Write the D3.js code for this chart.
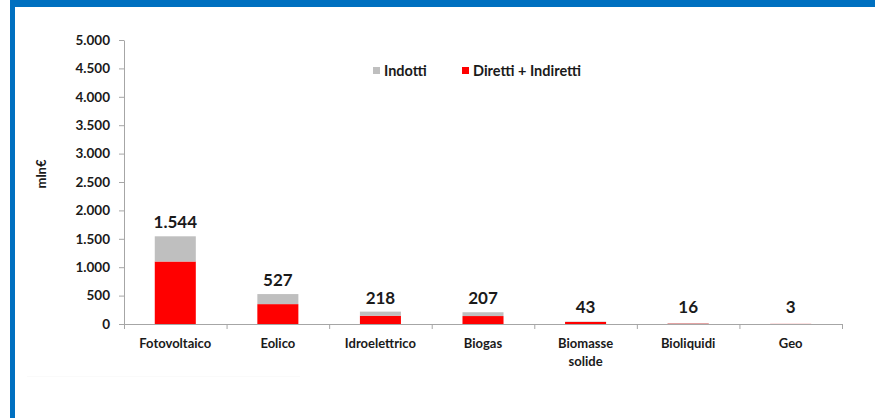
<!DOCTYPE html>
<html>
<head>
<meta charset="utf-8">
<script src="https://cdn.jsdelivr.net/npm/d3@7"></script>
<style>
  html, body { margin: 0; padding: 0; background: #fff; }
  svg { display: block; }
  text { font-family: Lato, "Open Sans", sans-serif; }
</style>
</head>
<body>
<svg id="chart" width="875" height="418"></svg>
<script>
const categories = ["Fotovoltaico", "Eolico", "Idroelettrico", "Biogas", "Biomasse solide", "Bioliquidi", "Geo"];
const categoryLines = [["Fotovoltaico"], ["Eolico"], ["Idroelettrico"], ["Biogas"], ["Biomasse", "solide"], ["Bioliquidi"], ["Geo"]];
const direttiIndiretti = [1100, 350, 145, 140, 36, 8, 2];
const indotti = [444, 177, 73, 67, 7, 8, 1];
const totals = [1544, 527, 218, 207, 43, 16, 3];
const yTicks = [0, 500, 1000, 1500, 2000, 2500, 3000, 3500, 4000, 4500, 5000];
const seriesNames = ["Indotti", "Diretti + Indiretti"];
const yLabel = "mln€";

const colors = { indotti: "#BFBFBF", diretti: "#FF0000", axis: "#A6A6A6", text: "#1a1a1a", frame: "#0070C0" };

const svg = d3.select("#chart");
const W = 875, H = 418;
const mLeft = 124, mRight = 842, mTop = 40, mBottom = 324;

// frame
svg.append("rect").attr("x", 10).attr("y", 0).attr("width", W - 10).attr("height", 7).attr("fill", colors.frame);
svg.append("rect").attr("x", 10).attr("y", 0).attr("width", 5).attr("height", H).attr("fill", colors.frame);
svg.append("line").attr("x1", 27).attr("x2", 300).attr("y1", 376.5).attr("y2", 376.5).attr("stroke", "#fafafa");

const loc = d3.formatLocale({ decimal: ",", thousands: ".", grouping: [3], currency: ["", "€"] });
const fmt = loc.format(",d");

const x = d3.scaleBand().domain(categories).range([mLeft, mRight]).paddingInner(0.6).paddingOuter(0.3);
const y = d3.scaleLinear().domain([0, 5000]).range([mBottom, mTop]);

// y axis
const yAxis = svg.append("g").attr("transform", `translate(${mLeft},0)`)
  .call(d3.axisLeft(y).tickValues(yTicks).tickSize(5).tickPadding(9).tickFormat(fmt).tickSizeOuter(0));
yAxis.select(".domain").attr("stroke", colors.axis);
yAxis.selectAll(".tick line").attr("stroke", colors.axis);
yAxis.selectAll(".tick text").attr("fill", colors.text).attr("font-size", 13.5).attr("font-weight", "bold")
  .attr("font-family", "Lato, 'Open Sans', sans-serif");

// y label
svg.append("text").attr("transform", "translate(46,174) rotate(-90)")
  .attr("text-anchor", "middle").attr("font-size", 13).attr("font-weight", "bold").attr("fill", colors.text)
  .text(yLabel);

// bars
const data = categories.map((c, i) => ({ c, d: direttiIndiretti[i], ind: indotti[i], t: totals[i], lines: categoryLines[i] }));
const g = svg.append("g");
g.selectAll("rect.dir").data(data).join("rect").attr("class", "dir")
  .attr("x", d => x(d.c)).attr("width", x.bandwidth())
  .attr("y", d => y(d.d)).attr("height", d => y(0) - y(d.d)).attr("fill", colors.diretti);
g.selectAll("rect.ind").data(data).join("rect").attr("class", "ind")
  .attr("x", d => x(d.c)).attr("width", x.bandwidth())
  .attr("y", d => y(d.d + d.ind)).attr("height", d => y(d.d) - y(d.d + d.ind)).attr("fill", colors.indotti);

// value labels
g.selectAll("text.val").data(data).join("text").attr("class", "val")
  .attr("x", d => x(d.c) + x.bandwidth() / 2).attr("y", d => Math.min(y(d.t) - 8, 313))
  .attr("text-anchor", "middle").attr("font-size", 17).attr("font-weight", "bold").attr("fill", colors.text)
  .text(d => fmt(d.t));

// x axis
const step = x.step();
const xa = svg.append("g");
xa.append("line").attr("x1", mLeft).attr("x2", mRight).attr("y1", mBottom + 0.5).attr("y2", mBottom + 0.5).attr("stroke", colors.axis);
xa.selectAll("line.tk").data(d3.range(categories.length + 1)).join("line").attr("class", "tk")
  .attr("x1", i => mLeft + i * step + 0.5).attr("x2", i => mLeft + i * step + 0.5)
  .attr("y1", mBottom).attr("y2", mBottom + 5).attr("stroke", colors.axis);
xa.selectAll("text.cat").data(data).join("text").attr("class", "cat")
  .attr("x", d => x(d.c) + x.bandwidth() / 2).attr("y", 348)
  .attr("text-anchor", "middle").attr("font-size", 13).attr("font-weight", "bold").attr("fill", colors.text)
  .each(function (d) {
    d3.select(this).selectAll("tspan").data(d.lines).join("tspan")
      .attr("x", x(d.c) + x.bandwidth() / 2).attr("dy", (l, i) => i === 0 ? 0 : 18).text(l => l);
  });

// legend
const legend = [{ name: seriesNames[0], color: colors.indotti, x: 373 }, { name: seriesNames[1], color: colors.diretti, x: 462 }];
const lg = svg.append("g");
lg.selectAll("rect").data(legend).join("rect").attr("x", d => d.x).attr("y", 67).attr("width", 7).attr("height", 7).attr("fill", d => d.color);
lg.selectAll("text").data(legend).join("text").attr("x", d => d.x + 11).attr("y", 75.5)
  .attr("font-size", 14.5).attr("font-weight", "bold").attr("fill", colors.text).text(d => d.name);
</script>
</body>
</html>
